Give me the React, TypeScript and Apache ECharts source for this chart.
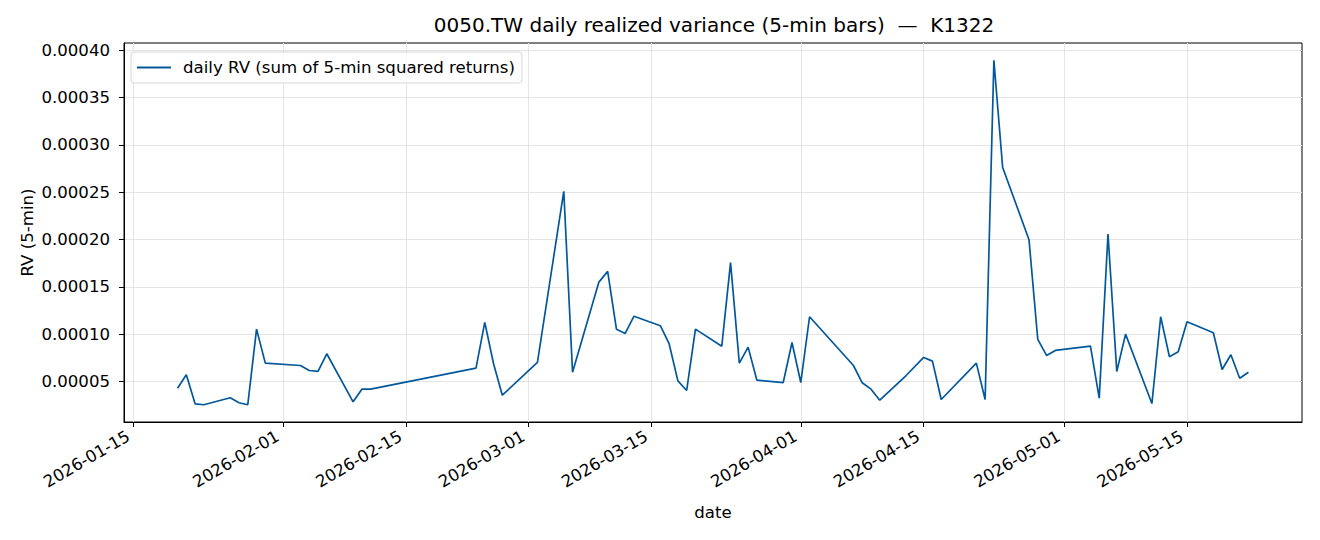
import React, { useEffect, useRef } from 'react';
import * as echarts from 'echarts';

const dates = [
  '2026-01-20', '2026-01-21', '2026-01-22', '2026-01-23', '2026-01-26', '2026-01-27', '2026-01-28', '2026-01-29', '2026-01-30',
  '2026-02-03', '2026-02-04', '2026-02-05', '2026-02-06', '2026-02-09', '2026-02-10', '2026-02-11',
  '2026-02-23', '2026-02-24', '2026-02-25', '2026-02-26',
  '2026-03-02', '2026-03-05', '2026-03-06', '2026-03-09', '2026-03-10', '2026-03-11', '2026-03-12', '2026-03-13',
  '2026-03-16', '2026-03-17', '2026-03-18', '2026-03-19', '2026-03-20', '2026-03-23', '2026-03-24', '2026-03-25',
  '2026-03-26', '2026-03-27', '2026-03-30', '2026-03-31', '2026-04-01', '2026-04-02',
  '2026-04-07', '2026-04-08', '2026-04-09', '2026-04-10', '2026-04-13', '2026-04-15', '2026-04-16', '2026-04-17',
  '2026-04-21', '2026-04-22', '2026-04-23', '2026-04-24', '2026-04-27', '2026-04-28', '2026-04-29', '2026-04-30',
  '2026-05-04', '2026-05-05', '2026-05-06', '2026-05-07', '2026-05-08', '2026-05-11', '2026-05-12', '2026-05-13',
  '2026-05-14', '2026-05-15', '2026-05-18', '2026-05-19', '2026-05-20', '2026-05-21', '2026-05-22',
];

const rv = [
  0.0000429, 0.0000571, 0.0000264, 0.0000254, 0.0000328, 0.0000275, 0.0000254, 0.0001053, 0.0000694,
  0.0000669, 0.0000616, 0.0000606, 0.0000793, 0.0000285, 0.0000419, 0.0000419,
  0.0000641, 0.0001124, 0.0000687, 0.0000355,
  0.0000701, 0.0002509, 0.0000598, 0.000155, 0.0001663, 0.0001053, 0.0001008, 0.000119,
  0.0001089, 0.0000899, 0.0000507, 0.0000405, 0.0001053, 0.0000873, 0.0001755, 0.0000694,
  0.0000863, 0.0000514, 0.0000489, 0.0000912, 0.0000489, 0.0001184,
  0.0000669, 0.0000486, 0.0000419, 0.0000302, 0.0000563, 0.0000754, 0.0000715, 0.000031,
  0.0000694, 0.000031, 0.0003894, 0.000276, 0.0001998, 0.0000944, 0.0000775, 0.0000828,
  0.0000873, 0.0000324, 0.0002057, 0.0000606, 0.0001, 0.0000267, 0.0001184, 0.0000761,
  0.0000814, 0.0001131, 0.0001015, 0.0000627, 0.0000782, 0.0000535, 0.0000598,
];

const xTickLabels = ['2026-01-15', '2026-02-01', '2026-02-15', '2026-03-01', '2026-03-15', '2026-04-01', '2026-04-15', '2026-05-01', '2026-05-15'];
const yTickValues = [0.00005, 0.0001, 0.00015, 0.0002, 0.00025, 0.0003, 0.00035, 0.0004];

const TITLE = '0050.TW daily realized variance (5-min bars)  \u2014  K1322';
const SERIES_NAME = 'daily RV (sum of 5-min squared returns)';

const toMs = (s: string) => {
  const [y, m, d] = s.split('-').map(Number);
  return Date.UTC(y, m - 1, d);
};
const pad2 = (n: number) => (n < 10 ? '0' + n : '' + n);
const fmtDate = (v: number) => {
  const d = new Date(Math.round(v));
  return d.getUTCFullYear() + '-' + pad2(d.getUTCMonth() + 1) + '-' + pad2(d.getUTCDate());
};

const FONT = 'DejaVu Sans';
const FS = 16.6;
const LINE_COLOR = '#03589c';

export default function App() {
  const ref = useRef<HTMLDivElement>(null);
  useEffect(() => {
    if (!ref.current) return;
    const chart = echarts.init(ref.current, undefined, { renderer: 'svg' });
    const xs = dates.map(toMs);
    const span = xs[xs.length - 1] - xs[0];
    const xMin = xs[0] - 0.05 * span;
    const xMax = xs[xs.length - 1] + 0.05 * span;
    const yLo = Math.min(...rv);
    const yHi = Math.max(...rv);
    const yMin = yLo - 0.05 * (yHi - yLo);
    const yMax = yHi + 0.05 * (yHi - yLo);
    const xTicks = xTickLabels.map(toMs);

    chart.setOption({
      animation: false,
      textStyle: { fontFamily: FONT },
      title: {
        text: TITLE,
        left: 709,
        top: 10,
        textAlign: 'center',
        textStyle: { fontFamily: FONT, fontSize: 20, fontWeight: 'normal', color: '#000' },
      },
      legend: {
        left: 131,
        top: 52,
        data: [{ name: SERIES_NAME, icon: 'rect' }],
        itemWidth: 34,
        itemHeight: 2,
        padding: [7, 7, 7, 6],
        backgroundColor: 'rgba(255,255,255,0.8)',
        borderColor: '#d6d6d6',
        borderWidth: 1,
        borderRadius: 3,
        textStyle: { fontFamily: FONT, fontSize: FS, color: '#000', padding: [0, 0, 0, 7] },
      },
      grid: {
        left: 124,
        top: 43,
        width: 1178,
        height: 379,
        show: true,
        borderColor: '#000',
        borderWidth: 1,
      },
      xAxis: {
        type: 'value',
        min: xMin,
        max: xMax,
        scale: true,
        name: 'date',
        nameLocation: 'middle',
        nameGap: 82,
        nameTextStyle: { fontFamily: FONT, fontSize: FS, color: '#000' },
        axisLine: { show: true, onZero: false, lineStyle: { color: '#000', width: 1 } },
        axisTick: { show: true, customValues: xTicks, length: 5, lineStyle: { color: '#000', width: 1 } },
        axisLabel: {
          customValues: xTicks,
          rotate: 30,
          margin: 10,
          padding: [0, 6, 0, 0],
          fontFamily: FONT,
          fontSize: FS,
          color: '#000',
          formatter: (v: number) => fmtDate(v),
        },
        splitLine: { show: true, lineStyle: { color: '#e4e4e4', width: 1 } },
      },
      yAxis: {
        type: 'value',
        min: yMin,
        max: yMax,
        name: 'RV (5-min)',
        nameLocation: 'middle',
        nameGap: 88,
        nameMoveOverlap: false,
        nameRotate: 90,
        nameTextStyle: { fontFamily: FONT, fontSize: FS, color: '#000' },
        axisLine: { show: true, onZero: false, lineStyle: { color: '#000', width: 1 } },
        axisTick: { show: true, customValues: yTickValues, length: 5, lineStyle: { color: '#000', width: 1 } },
        axisLabel: {
          customValues: yTickValues,
          margin: 14,
          fontFamily: FONT,
          fontSize: FS,
          color: '#000',
          formatter: (v: number) => v.toFixed(5),
        },
        splitLine: { show: true, lineStyle: { color: '#e4e4e4', width: 1 } },
      },
      series: [
        {
          name: SERIES_NAME,
          type: 'line',
          data: xs.map((x, i) => [x, rv[i]]),
          symbol: 'none',
          showSymbol: false,
          lineStyle: { width: 1.7, color: LINE_COLOR },
          itemStyle: { color: LINE_COLOR },
        },
      ],
    });
    return () => chart.dispose();
  }, []);
  return (
    <div
      ref={ref}
      style={{ position: 'fixed', left: 0, top: 0, width: 1320, height: 540, background: '#fff' }}
    />
  );
}
